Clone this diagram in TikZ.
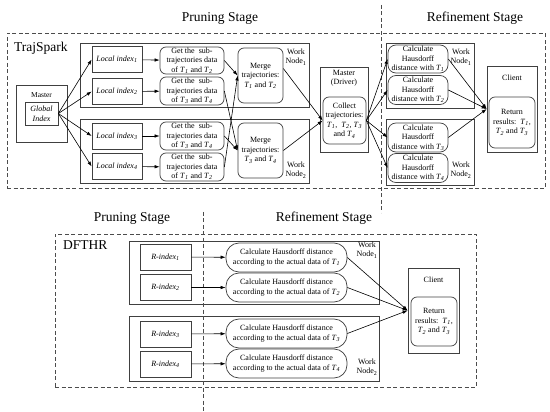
\documentclass[tikz,border=0pt]{standalone}
\usepackage{fontspec}
\setmainfont{Liberation Serif}
\usetikzlibrary{arrows.meta}
\newcommand\Ti[1]{\textit{T}\textsubscript{\textit{#1}}}
\newcommand\Sb[1]{\textsubscript{#1}}
\begin{document}
\begin{tikzpicture}[x=1pt,y=-1pt,
  txt/.style={font=\fontsize{8}{9.5}\selectfont, align=center, inner sep=0pt},
  sbox/.style={draw=black!75, line width=0.7pt, inner sep=0pt, align=center, font=\fontsize{8}{9.5}\selectfont},
  rbox/.style={sbox, rounded corners=6pt},
  pill/.style={sbox, rounded corners=13pt},
  dbox/.style={draw=black!70, line width=0.8pt, dash pattern=on 4pt off 2.5pt, inner sep=0pt},
  dline/.style={draw=black!70, line width=0.8pt, dash pattern=on 4pt off 2.5pt},
  ttl/.style={font=\fontsize{13.5}{15}\selectfont, inner sep=0pt},
  arr/.style={-{Latex[length=5pt,width=3.5pt]}, line width=0.6pt, black},
  lin/.style={line width=0.6pt, black}]
\useasboundingbox (0,0) rectangle (550,412);
% ---------------- top: TrajSpark ----------------
\node[ttl] (tP1) at (220,18) {Pruning Stage};
\node[ttl] (tR1) at (475,18) {Refinement Stage};
\node[dbox, minimum width=538, minimum height=155] (TS) at (276,110.5) {};
\node[ttl, anchor=west] (TSl) at (14,48) {TrajSpark};
\coordinate (v1a) at (381,5);
\coordinate (v1b) at (381,213);
\draw[dline] (v1a) -- (v1b);
% master
\node[sbox, minimum width=51, minimum height=57] (M) at (41.5,113.5) {};
\node[txt, font=\fontsize{7.5}{9}\selectfont] (Ml) at (41.5,95) {Master};
\node[sbox, minimum width=33, minimum height=23, font=\fontsize{8}{10}\itshape] (G) at (41.5,113.5) {Global\\Index};
% work node boxes (pruning)
\node[sbox, minimum width=229, minimum height=64] (W1) at (194.5,75) {};
\node[sbox, minimum width=229, minimum height=64] (W2) at (194.5,151) {};
\node[txt] (W1l) at (296,57) {Work\\Node\Sb{1}};
\node[txt] (W2l) at (296,170) {Work\\Node\Sb{2}};
% local indices
\node[sbox, minimum width=50, minimum height=26] (L1) at (117,59.5) {\textit{Local index}\Sb{\textit{1}}};
\node[sbox, minimum width=50, minimum height=26] (L2) at (117,91.5) {\textit{Local index}\Sb{\textit{2}}};
\node[sbox, minimum width=50, minimum height=26] (L3) at (117,136) {\textit{Local index}\Sb{\textit{3}}};
\node[sbox, minimum width=50, minimum height=26] (L4) at (117,166.5) {\textit{Local index}\Sb{\textit{4}}};
% get boxes
\node[rbox, minimum width=64, minimum height=27] (g1) at (192,60.5) {Get the\ \ sub-\\trajectories data\\of \Ti{1} and \Ti{2}};
\node[rbox, minimum width=64, minimum height=28] (g2) at (192,91) {Get the\ \ sub-\\trajectories data\\of \Ti{3} and \Ti{4}};
\node[rbox, minimum width=64, minimum height=28] (g3) at (192,136) {Get the\ \ sub-\\trajectories data\\of \Ti{3} and \Ti{4}};
\node[rbox, minimum width=64, minimum height=28] (g4) at (192,167) {Get the\ \ sub-\\trajectories data\\of \Ti{1} and \Ti{2}};
% merge boxes
\node[rbox, minimum width=45, minimum height=55] (m1) at (260.5,75.5) {Merge\\trajectories:\\\Ti{1} and \Ti{2}};
\node[rbox, minimum width=45, minimum height=55] (m2) at (260.5,150.5) {Merge\\trajectories:\\\Ti{3} and \Ti{4}};
% master driver
\node[sbox, minimum width=48, minimum height=85] (MD) at (344,109.5) {};
\node[txt] (MDl) at (344,78) {Master\\(Driver)};
\node[rbox, minimum width=43, minimum height=47] (co) at (344.5,120.5) {Collect\\trajectories:\\\Ti{1}, \ \Ti{2}, \Ti{3}\\and \Ti{4}};
% refinement work nodes
\node[sbox, minimum width=88, minimum height=65] (R1) at (430,75.5) {};
\node[sbox, minimum width=88, minimum height=66] (R2) at (430,152) {};
\node[txt] (R1l) at (461,57) {Work\\Node\Sb{1}};
\node[txt] (R2l) at (461,170) {Work\\Node\Sb{2}};
\node[rbox, rounded corners=8pt, minimum width=60, minimum height=28] (c1) at (418,59) {Calculate\\Hausdorff\\distance with \Ti{1}};
\node[rbox, rounded corners=8pt, minimum width=60, minimum height=29] (c2) at (418,90) {Calculate\\Hausdorff\\distance with \Ti{2}};
\node[rbox, rounded corners=8pt, minimum width=60, minimum height=29] (c3) at (418,137.5) {Calculate\\Hausdorff\\distance with \Ti{3}};
\node[rbox, rounded corners=8pt, minimum width=60, minimum height=29] (c4) at (418,168) {Calculate\\Hausdorff\\distance with \Ti{4}};
% client
\node[sbox, minimum width=50, minimum height=86] (CL) at (512,109) {};
\node[txt] (CLl) at (512,78) {Client};
\node[rbox, minimum width=46, minimum height=51] (rt) at (512,122.5) {Return\\results:\ \ \Ti{1},\\\Ti{2} and \Ti{3}};
% arrows top
\foreach \n in {L1,L2,L3,L4} \draw[arr] (G.east) -- (\n.west);
\draw[arr] (L1) -- (g1);
\draw[arr] (L2) -- (g2);
\draw[arr] (L3) -- (g3);
\draw[arr] (L4) -- (g4);
\draw[arr] (g1.east) -- (m1.west);
\draw[arr] (g4.east) -- (m1.west);
\draw[arr] (g2.east) -- (m2.west);
\draw[arr] (g3.east) -- (m2.west);
\draw[arr] ([yshift=7pt]m1.east) -- (co.west);
\draw[arr] (m2.east) -- (co.west);
\foreach \n in {c1,c2,c3,c4} \draw[arr] (co.east) -- (\n.west);
\foreach \n in {c1,c2,c3} \draw[arr] (\n.east) -- (CL.west);
% ---------------- bottom: DFTHR ----------------
\node[ttl] (tP2) at (132,218) {Pruning Stage};
\node[ttl] (tR2) at (324,218) {Refinement Stage};
\coordinate (v2a) at (203,212);
\coordinate (v2b) at (203,412);
\node[dbox, minimum width=421, minimum height=153] (DF) at (265.5,310.5) {};
\node[ttl, anchor=west] (DFl) at (63,245) {DFTHR};
\node[sbox, minimum width=250, minimum height=63] (B1) at (254,272.5) {};
\node[sbox, minimum width=250, minimum height=65] (B2) at (254,348.5) {};
\draw[dline] (v2a) -- (v2b);
\node[txt] (B1l) at (367,250) {Work\\Node\Sb{1}};
\node[txt] (B2l) at (367,367) {Work\\Node\Sb{2}};
\node[sbox, minimum width=51, minimum height=26, fill=white] (ri1) at (165.5,257) {\textit{R-index}\Sb{\textit{1}}};
\node[sbox, minimum width=51, minimum height=26, fill=white] (ri2) at (165.5,287.5) {\textit{R-index}\Sb{\textit{2}}};
\node[sbox, minimum width=51, minimum height=26, fill=white] (ri3) at (165.5,334) {\textit{R-index}\Sb{\textit{3}}};
\node[sbox, minimum width=51, minimum height=26, fill=white] (ri4) at (165.5,364) {\textit{R-index}\Sb{\textit{4}}};
\node[pill, minimum width=121, minimum height=29, fill=white] (h1) at (286.5,257.5) {Calculate Hausdorff distance\\according to the actual data of \Ti{1}};
\node[pill, minimum width=121, minimum height=29, fill=white] (h2) at (286.5,287.5) {Calculate Hausdorff distance\\according to the actual data of \Ti{2}};
\node[pill, minimum width=121, minimum height=29, fill=white] (h3) at (286.5,333.5) {Calculate Hausdorff distance\\according to the actual data of \Ti{3}};
\node[pill, minimum width=121, minimum height=29, fill=white] (h4) at (286.5,363.5) {Calculate Hausdorff distance\\according to the actual data of \Ti{4}};
\node[sbox, minimum width=51, minimum height=85] (CL2) at (433.5,310.5) {};
\node[txt] (CL2l) at (433.5,280) {Client};
\node[rbox, minimum width=46, minimum height=49] (rt2) at (434,321.5) {Return\\results:\ \ \Ti{1},\\\Ti{2} and \Ti{3}};
\draw[arr] (ri1) -- (h1);
\draw[arr] (ri2) -- (h2);
\draw[arr] (ri3) -- (h3);
\draw[arr] (ri4) -- (h4);
\foreach \n in {h1,h2,h3} \draw[arr] (\n.east) -- (CL2.west);
\end{tikzpicture}
\end{document}
